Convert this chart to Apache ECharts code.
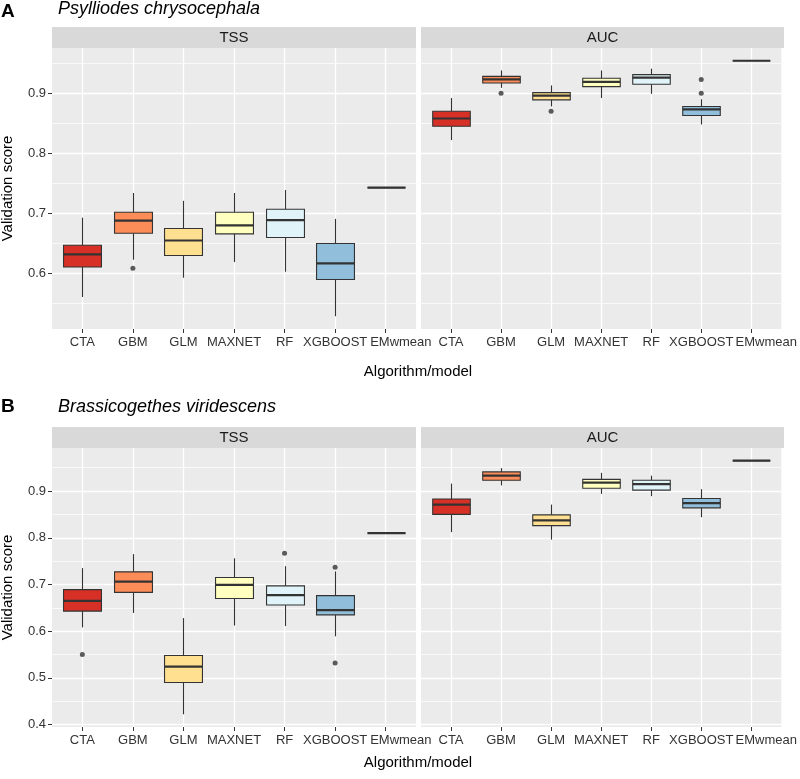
<!DOCTYPE html>
<html><head><meta charset="utf-8">
<script src="https://cdn.jsdelivr.net/npm/echarts@6/dist/echarts.min.js"></script>
<style>html,body{margin:0;padding:0;background:#fff}#c{width:800px;height:779px}</style>
</head><body><div id="c"></div>
<script>
// ---------- data ----------
const categories = ['CTA', 'GBM', 'GLM', 'MAXNET', 'RF', 'XGBOOST', 'EMwmean'];
const yTicksA = [0.6, 0.7, 0.8, 0.9];
const yTicksB = [0.4, 0.5, 0.6, 0.7, 0.8, 0.9];
// five-number summaries per category: [whiskerLow, q1, median, q3, whiskerHigh]
const psylliodesTSS = [
  [0.561, 0.611, 0.632, 0.647, 0.693],
  [0.623, 0.667, 0.688, 0.702, 0.734],
  [0.593, 0.630, 0.655, 0.675, 0.721],
  [0.619, 0.666, 0.680, 0.702, 0.734],
  [0.603, 0.660, 0.689, 0.707, 0.739],
  [0.529, 0.590, 0.617, 0.650, 0.691],
  [0.743, 0.743, 0.743, 0.743, 0.743]
];
const psylliodesTSSOutliers = [['GBM', 0.609]];
const psylliodesAUC = [
  [0.822, 0.845, 0.858, 0.870, 0.892],
  [0.909, 0.917, 0.923, 0.928, 0.938],
  [0.878, 0.889, 0.896, 0.901, 0.913],
  [0.892, 0.911, 0.919, 0.925, 0.938],
  [0.899, 0.915, 0.926, 0.931, 0.941],
  [0.848, 0.863, 0.873, 0.878, 0.890],
  [0.954, 0.954, 0.954, 0.954, 0.954]
];
const psylliodesAUCOutliers = [['GBM', 0.900], ['GLM', 0.870], ['XGBOOST', 0.900], ['XGBOOST', 0.923]];
const brassicogethesTSS = [
  [0.608, 0.643, 0.665, 0.689, 0.735],
  [0.639, 0.683, 0.706, 0.727, 0.765],
  [0.422, 0.490, 0.524, 0.548, 0.628],
  [0.612, 0.670, 0.699, 0.715, 0.756],
  [0.611, 0.656, 0.677, 0.697, 0.739],
  [0.589, 0.635, 0.645, 0.676, 0.728],
  [0.810, 0.810, 0.810, 0.810, 0.810]
];
const brassicogethesTSSOutliers = [['CTA', 0.550], ['RF', 0.767], ['XGBOOST', 0.737], ['XGBOOST', 0.532]];
const brassicogethesAUC = [
  [0.812, 0.850, 0.871, 0.883, 0.916],
  [0.912, 0.923, 0.933, 0.941, 0.949],
  [0.796, 0.826, 0.837, 0.849, 0.871],
  [0.894, 0.906, 0.918, 0.925, 0.939],
  [0.889, 0.902, 0.915, 0.923, 0.933],
  [0.844, 0.864, 0.874, 0.884, 0.904],
  [0.965, 0.965, 0.965, 0.965, 0.965]
];
const brassicogethesAUCOutliers = [];

// ---------- style ----------
const boxColors = ['#D73027', '#FC8D59', '#FEE090', '#FFFFBF', '#E0F3F8', '#91BFDB', '#4575B4'];
const FONT = 'Liberation Sans, Arial, sans-serif';
const facetX = [{ left: 52, width: 364 }, { left: 421, width: 363 }];
const panels = [
  { top: 48, height: 281, stripTop: 27, letter: 'A', species: 'Psylliodes chrysocephala', letterY: 12, speciesY: 9,
    facets: [[psylliodesTSS, psylliodesTSSOutliers, 'TSS'], [psylliodesAUC, psylliodesAUCOutliers, 'AUC']],
    ticks: yTicksA, xTitleY: 372 },
  { top: 448, height: 279, stripTop: 427, letter: 'B', species: 'Brassicogethes viridescens', letterY: 407, speciesY: 407,
    facets: [[brassicogethesTSS, brassicogethesTSSOutliers, 'TSS'], [brassicogethesAUC, brassicogethesAUCOutliers, 'AUC']],
    ticks: yTicksB, xTitleY: 763 }
];

function extentOf(p) {
  let vals = [];
  p.facets.forEach(f => { f[0].forEach(r => vals.push(...r)); f[1].forEach(o => vals.push(o[1])); });
  const mn = Math.min(...vals), mx = Math.max(...vals), r = mx - mn;
  return [mn - 0.05 * r, mx + 0.05 * r];
}

function renderBox(params, api) {
  const xi = api.value(0);
  const lo = api.coord([xi, api.value(1)]);
  const q1 = api.coord([xi, api.value(2)]);
  const md = api.coord([xi, api.value(3)]);
  const q3 = api.coord([xi, api.value(4)]);
  const hi = api.coord([xi, api.value(5)]);
  const w = api.size([0.75, 0])[0];
  const cx = Math.round(lo[0]) + 0.5;
  const fill = boxColors[Math.round(xi) - 1];
  const st = { stroke: '#333333', lineWidth: 1.1 };
  return { type: 'group', children: [
    { type: 'line', shape: { x1: cx, y1: hi[1], x2: cx, y2: q3[1] }, style: st },
    { type: 'line', shape: { x1: cx, y1: q1[1], x2: cx, y2: lo[1] }, style: st },
    { type: 'rect', shape: { x: cx - w / 2, y: q3[1], width: w, height: q1[1] - q3[1] }, style: { fill: fill, stroke: '#333333', lineWidth: 1.1 } },
    { type: 'line', shape: { x1: cx - w / 2, y1: md[1], x2: cx + w / 2, y2: md[1] }, style: { stroke: '#333333', lineWidth: 2.2 } }
  ] };
}

const grid = [], xAxis = [], yAxis = [], series = [], graphic = [];
const xPositions = categories.map((c, i) => i + 1);
// the last label (EMwmean) sits a little right of its tick, as in the original figure
const xLabelPositions = xPositions.map((v, i) => i === xPositions.length - 1 ? v + 0.3 : v);

panels.forEach((p, pi) => {
  const [ymin, ymax] = extentOf(p);
  const minor = [];
  for (let i = 0; i <= p.ticks.length; i++) {
    const v = +(p.ticks[0] - 0.05 + i * 0.1).toFixed(2);
    if (v > ymin && v < ymax) minor.push(v);
  }
  p.facets.forEach((f, fi) => {
    const gi = grid.length;
    grid.push({ left: facetX[fi].left, width: facetX[fi].width, top: p.top, height: p.height,
      show: true, backgroundColor: '#EBEBEB', borderWidth: 0 });
    xAxis.push({ type: 'value', gridIndex: gi, min: 0.4, max: 7.6,
      axisLine: { show: false }, splitLine: { show: false },
      axisTick: { show: true, customValues: xPositions, length: 4, lineStyle: { color: '#333333' } },
      axisLabel: { customValues: xLabelPositions, hideOverlap: false, showMinLabel: true, showMaxLabel: true,
        formatter: v => categories[Math.round(v) - 1], fontSize: 13, color: '#333333', fontFamily: FONT, margin: 7 } });
    yAxis.push({ type: 'value', gridIndex: gi, min: ymin, max: ymax, show: fi === 0,
      axisLine: { show: false }, splitLine: { show: false },
      axisTick: { show: true, customValues: p.ticks, length: 4, lineStyle: { color: '#333333' } },
      axisLabel: { customValues: p.ticks, formatter: v => v.toFixed(1), fontSize: 13, color: '#333333', fontFamily: FONT, margin: 6 } });
    const lines = [];
    minor.forEach(v => lines.push({ yAxis: v, lineStyle: { color: '#FFFFFF', width: 0.7, type: 'solid' } }));
    p.ticks.forEach(v => { if (v > ymin && v < ymax) lines.push({ yAxis: v, lineStyle: { color: '#FFFFFF', width: 1.3, type: 'solid' } }); });
    xPositions.forEach(v => lines.push({ xAxis: v, lineStyle: { color: '#FFFFFF', width: 1.3, type: 'solid' } }));
    series.push({ type: 'line', xAxisIndex: gi, yAxisIndex: gi, data: [], z: 1, silent: true,
      markLine: { silent: true, z: 1, symbol: ['none', 'none'], label: { show: false }, animation: false, precision: 4, data: lines } });
    series.push({ type: 'custom', xAxisIndex: gi, yAxisIndex: gi, z: 3, silent: true,
      renderItem: renderBox, encode: { x: 0, y: [1, 2, 3, 4, 5] },
      data: f[0].map((r, i) => [i + 1, ...r]) });
    series.push({ type: 'scatter', xAxisIndex: gi, yAxisIndex: gi, z: 4, silent: true,
      symbolSize: 5, itemStyle: { color: '#333333' },
      data: f[1].map(o => [categories.indexOf(o[0]) + 1, o[1]]) });
    graphic.push({ type: 'rect', shape: { x: facetX[fi].left, y: p.stripTop, width: facetX[fi].width, height: p.top - p.stripTop }, style: { fill: '#D9D9D9' }, silent: true });
    graphic.push({ type: 'text', x: facetX[fi].left + facetX[fi].width / 2, y: (p.stripTop + p.top) / 2 + 0.5,
      style: { text: f[2], font: '15px ' + FONT, fill: '#1A1A1A', textAlign: 'center', textVerticalAlign: 'middle' }, silent: true });
  });
  graphic.push({ type: 'text', x: 1, y: p.letterY, style: { text: p.letter, font: 'bold 19px ' + FONT, fill: '#000', textAlign: 'left', textVerticalAlign: 'middle' } });
  graphic.push({ type: 'text', x: 58, y: p.speciesY, style: { text: p.species, font: 'italic 18px ' + FONT, fill: '#000', textAlign: 'left', textVerticalAlign: 'middle' } });
  graphic.push({ type: 'text', x: 418, y: p.xTitleY, style: { text: 'Algorithm/model', font: '15px ' + FONT, fill: '#000', textAlign: 'center', textVerticalAlign: 'middle' } });
  graphic.push({ type: 'text', x: 8, y: p.top + p.height / 2, rotation: Math.PI / 2,
    style: { text: 'Validation score', font: '15px ' + FONT, fill: '#000', textAlign: 'center', textVerticalAlign: 'middle' } });
});

const chart = echarts.init(document.getElementById('c'), null, { renderer: 'canvas' });
chart.setOption({ animation: false, backgroundColor: '#FFFFFF', grid, xAxis, yAxis, series, graphic });
</script>
</body></html>
